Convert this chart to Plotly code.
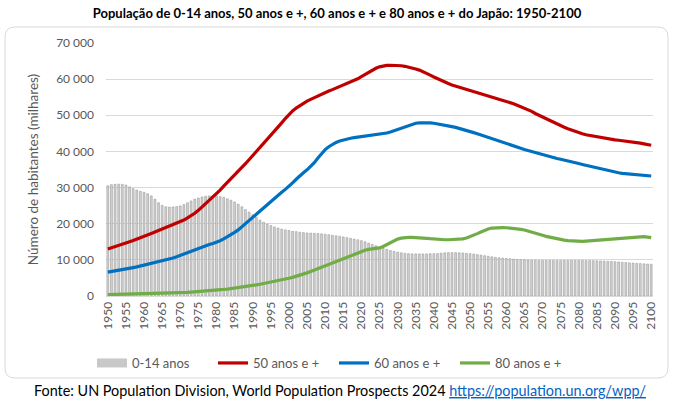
import plotly.graph_objects as go

# Japan population by age group (thousands), UN WPP 2024
years = list(range(1950, 2101))

pop_0_14 = [
    30500, 30800, 30900, 30950, 30900, 30700, 30200, 29700, 29300, 28950,
    28700, 28300, 27700, 26800, 25800, 25100, 24700, 24600, 24650, 24750,
    24900, 25300, 25800, 26300, 26800, 27100, 27400, 27600, 27700, 27750,
    27700, 27500, 27300, 26900, 26500, 26000, 25400, 24700, 23900, 23200,
    22500, 21800, 21000, 20400, 19900, 19500, 19100, 18800, 18500, 18300,
    18100, 17900, 17800, 17650, 17550, 17450, 17400, 17350, 17300, 17200,
    17100, 16950, 16800, 16650, 16500, 16350, 16150, 15950, 15750, 15550,
    15300, 15000, 14650, 14250, 13900, 13550, 13200, 12900, 12600, 12350,
    12150, 11950, 11800, 11700, 11650, 11650, 11650, 11650, 11650, 11700,
    11700, 11750, 11850, 11950, 12000, 12000, 12000, 11950, 11900, 11800,
    11700, 11600, 11450, 11300, 11150, 11000, 10850, 10700, 10600, 10500,
    10400, 10300, 10200, 10100, 10050, 10000, 9950, 9900, 9900, 9850,
    9850, 9850, 9850, 9850, 9850, 9850, 9850, 9850, 9850, 9850,
    9850, 9850, 9800, 9800, 9780, 9750, 9700, 9650, 9600, 9550,
    9500, 9420, 9340, 9250, 9170, 9100, 9030, 8960, 8900, 8850,
    8800,
]

pop_50_plus = [
    13000, 13300, 13600, 14000, 14300, 14600, 15000, 15350, 15700, 16050,
    16500, 16900, 17300, 17700, 18100, 18500, 18900, 19300, 19700, 20100,
    20500, 21000, 21600, 22200, 22900, 23700, 24600, 25500, 26400, 27300,
    28200, 29300, 30400, 31500, 32600, 33600, 34600, 35600, 36600, 37700,
    38800, 39900, 41000, 42100, 43200, 44300, 45500, 46700, 47900, 49100,
    50200, 51200, 52000, 52700, 53300, 53900, 54400, 54900, 55400, 55900,
    56300, 56700, 57100, 57500, 57900, 58300, 58700, 59100, 59600, 60100,
    60700, 61300, 61900, 62500, 63000, 63400, 63700, 63800, 63850, 63850,
    63800, 63700, 63550, 63350, 63100, 62800, 62500, 62100, 61600, 61100,
    60600, 60100, 59600, 59200, 58800, 58400, 58100, 57800, 57500, 57200,
    56900, 56600, 56300, 56000, 55700, 55400, 55200, 54900, 54600, 54300,
    54000, 53600, 53200, 52800, 52400, 52000, 51600, 51100, 50500, 50000,
    49500, 49000, 48500, 48000, 47500, 47100, 46700, 46300, 45900, 45500,
    45200, 44900, 44600, 44400, 44200, 44000, 43800, 43600, 43400, 43300,
    43200, 43100, 43000, 42900, 42800, 42650, 42500, 42300, 42100, 41900,
    41700,
]

pop_60_plus = [
    6600, 6750, 6900, 7050, 7200, 7400, 7600, 7850, 8050, 8300,
    8550, 8800, 9050, 9250, 9450, 9650, 9850, 10150, 10500, 10850,
    11250, 11650, 12050, 12450, 12850, 13250, 13600, 13950, 14250, 14550,
    14850, 15300, 15800, 16350, 16950, 17600, 18300, 19100, 19950, 20850,
    21750, 22600, 23500, 24400, 25300, 26200, 27100, 27900, 28700, 29500,
    30300, 31300, 32300, 33300, 34100, 34900, 35800, 36900, 38200, 39500,
    40500, 41300, 42000, 42500, 42900, 43200, 43450, 43650, 43800, 43950,
    44100, 44200, 44300, 44400, 44500, 44650, 44850, 45100, 45400, 45750,
    46100, 46500, 46900, 47300, 47600, 47800, 47900, 47950, 47950, 47900,
    47800, 47650, 47450, 47250, 47050, 46850, 46650, 46400, 46100, 45800,
    45500, 45200, 44900, 44550, 44200, 43850, 43500, 43200, 42850, 42500,
    42100, 41750, 41450, 41150, 40850, 40550, 40250, 39950, 39650, 39350,
    39050, 38800, 38550, 38300, 38050, 37850, 37650, 37400, 37150, 36900,
    36650, 36400, 36150, 35900, 35650, 35400, 35150, 34900, 34650, 34450,
    34250, 34100, 33950, 33850, 33750, 33650, 33550, 33450, 33350, 33280,
    33200,
]

pop_80_plus = [
    370, 390, 410, 430, 450, 470, 490, 510, 530, 550,
    570, 590, 610, 640, 670, 700, 730, 770, 810, 850,
    900, 950, 1010, 1070, 1130, 1200, 1280, 1360, 1440, 1520,
    1600, 1700, 1810, 1920, 2040, 2160, 2290, 2430, 2580, 2730,
    2890, 3060, 3240, 3420, 3610, 3800, 4000, 4210, 4430, 4660,
    4900, 5150, 5420, 5720, 6050, 6400, 6780, 7170, 7560, 7960,
    8350, 8730, 9130, 9550, 9990, 10400, 10800, 11200, 11600, 12000,
    12350, 12650, 12900, 13050, 13150, 13300, 13700, 14200, 14800, 15350,
    15750, 16000, 16150, 16200, 16200, 16180, 16120, 16050, 15950, 15850,
    15750, 15650, 15600, 15570, 15570, 15580, 15600, 15650, 15800, 16050,
    16400, 16800, 17250, 17700, 18150, 18550, 18800, 18900, 18920, 18920,
    18880, 18820, 18720, 18600, 18450, 18250, 18000, 17700, 17400, 17100,
    16800, 16500, 16250, 16000, 15800, 15600, 15450, 15300, 15200, 15120,
    15100, 15120, 15180, 15250, 15350, 15450, 15550, 15650, 15750, 15850,
    15950, 16000, 16050, 16100, 16150, 16200, 16300, 16400, 16400, 16300,
    16150,
]

x_ticks = list(range(1950, 2101, 5))
y_ticks = list(range(0, 70001, 10000))

title_text = 'População de 0-14 anos, 50 anos e +, 60 anos e + e 80 anos e + do Japão: 1950-2100'
source_text = ('Fonte: UN Population Division, World Population Prospects 2024 '
               '<span style="color:#0563c1"><u>https://population.un.org/wpp/</u></span>')

colors = {
    'bars': '#d2d2d2',
    'bar_edge': '#8e8e8e',
    'legend_patch': '#c8c8c8',
    'red': '#c00000',
    'blue': '#0070c0',
    'green': '#70ad47',
    'grid': '#d9d9d9',
    'text': '#595959',
}

W, H = 674, 404
L, R, T, B = 106, 21, 43, 108
pw, ph = W - L - R, H - T - B


def px_x(x):
    return (x - L) / pw


def px_y(y):
    return (H - B - y) / ph


# rounded border of the chart area (pixel box converted to paper coords)
x0, x1, y0, y1, r = 5, 668, 27, 378, 10
pts = [
    ('M', [(x0 + r, y0)]), ('L', [(x1 - r, y0)]), ('Q', [(x1, y0), (x1, y0 + r)]),
    ('L', [(x1, y1 - r)]), ('Q', [(x1, y1), (x1 - r, y1)]), ('L', [(x0 + r, y1)]),
    ('Q', [(x0, y1), (x0, y1 - r)]), ('L', [(x0, y0 + r)]), ('Q', [(x0, y0), (x0 + r, y0)]),
]
border_path = ' '.join(
    cmd + ' ' + ' '.join(f'{px_x(a):.4f},{px_y(b):.4f}' for a, b in p) for cmd, p in pts
) + ' Z'

fig = go.Figure()

fig.add_trace(go.Bar(
    x=years, y=pop_0_14, name='0-14 anos',
    marker=dict(color=colors['bars'], line=dict(color=colors['bar_edge'], width=0.5)),
    showlegend=False,
))
# legend entry for the bars drawn as a wide grey swatch
fig.add_trace(go.Scatter(
    x=[None], y=[None], mode='lines', name='0-14 anos',
    line=dict(color=colors['legend_patch'], width=9),
))
fig.add_trace(go.Scatter(x=years, y=pop_50_plus, mode='lines', name='50 anos e +',
                         line=dict(color=colors['red'], width=3.2)))
fig.add_trace(go.Scatter(x=years, y=pop_60_plus, mode='lines', name='60 anos e +',
                         line=dict(color=colors['blue'], width=3.2)))
fig.add_trace(go.Scatter(x=years, y=pop_80_plus, mode='lines', name='80 anos e +',
                         line=dict(color=colors['green'], width=3.2)))

fig.update_layout(
    width=W, height=H,
    margin=dict(l=L, r=R, t=T, b=B),
    paper_bgcolor='white', plot_bgcolor='white',
    font=dict(family='Lato, sans-serif', size=12, color=colors['text']),
    separators=', ',
    bargap=0.48,
    title=dict(text='<b>' + title_text + '</b>', x=0.5, xanchor='center',
               y=1 - 13 / H, yanchor='middle', yref='container',
               font=dict(size=13, color='black')),
    legend=dict(orientation='h', x=px_x(92), xanchor='left', y=px_y(363), yanchor='middle',
                font=dict(size=13, color=colors['text']),
                entrywidth=76, entrywidthmode='pixels', itemwidth=30,
                bgcolor='rgba(0,0,0,0)'),
    xaxis=dict(range=[1949.5, 2100.5], tickvals=x_ticks, tickangle=-90,
               showgrid=False, showline=True, linecolor=colors['grid'],
               ticks='', tickfont=dict(size=12), fixedrange=True),
    yaxis=dict(range=[0, 70000], tickvals=y_ticks, tickformat=',d',
               gridcolor=colors['grid'], zeroline=False, ticks='',
               ticklabelstandoff=11, tickfont=dict(size=12),
               title=dict(text='Número de habitantes (milhares)',
                          font=dict(size=13.5, color=colors['text']), standoff=14)),
    shapes=[dict(type='path', path=border_path, xref='paper', yref='paper',
                 line=dict(color='#d9d9d9', width=1), layer='below')],
    annotations=[dict(text=source_text, xref='paper', yref='paper',
                      x=px_x(32), xanchor='left', y=px_y(390), yanchor='middle',
                      showarrow=False, font=dict(size=14.4, color='black'))],
)

# drop the default page margin so the figure sits at the window's top-left corner
fig.write_html('out.html', config={'displayModeBar': False},
               post_script="document.body.style.margin='0';")
